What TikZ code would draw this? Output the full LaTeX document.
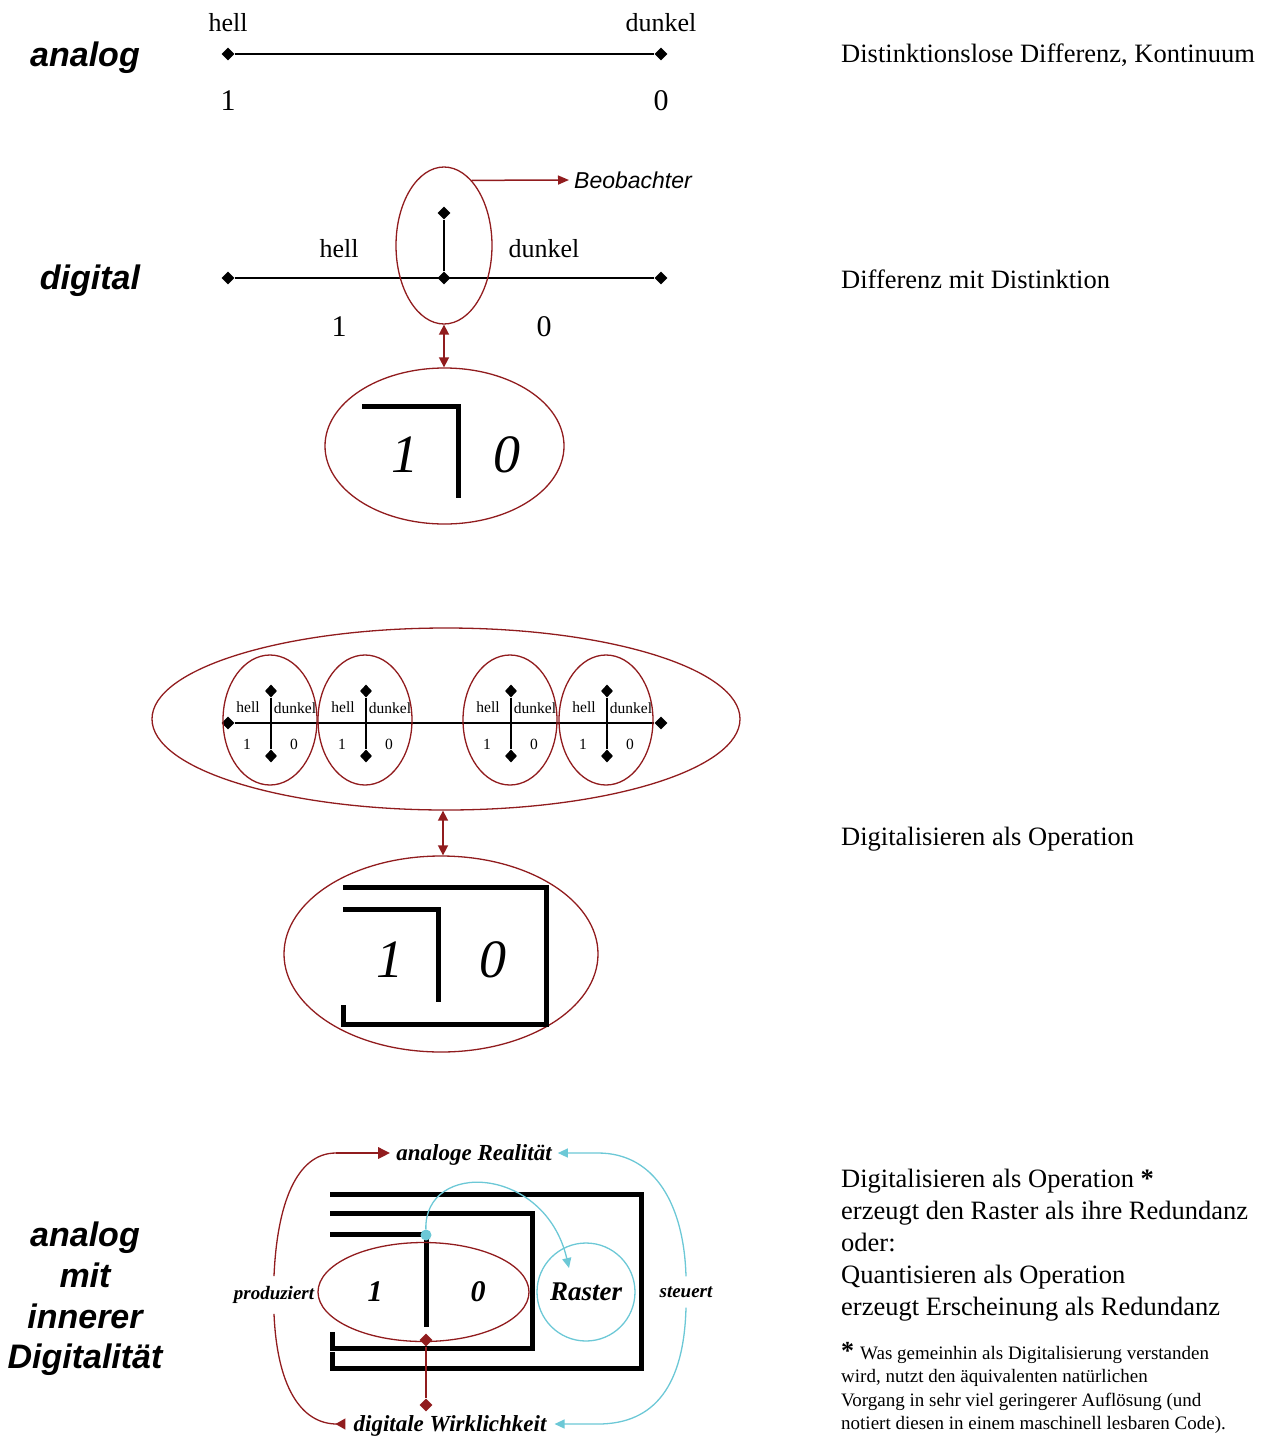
\documentclass[tikz,border=0pt]{standalone}
\usepackage{fontspec}
\setmainfont{Liberation Serif}
\newfontfamily\arialf{Liberation Sans}
\usetikzlibrary{arrows.meta,shapes.geometric}
\definecolor{dred}{RGB}{145,28,30}
\definecolor{cyn}{RGB}{108,200,214}
\newcommand\fsz[1]{\fontsize{#1}{#1}\selectfont}
\tikzset{ctip/.tip={Triangle[length=10pt,width=9pt]}}
\begin{document}
\begin{tikzpicture}[x=1pt,y=-1pt,
  dia/.style={diamond,fill=black,inner sep=0pt,minimum width=13pt,minimum height=13pt},
  sdia/.style={diamond,fill=black,inner sep=0pt,minimum width=12pt,minimum height=13pt},
  axisline/.style={line width=1.8pt},
  ell/.style={draw=dred,line width=1.3pt,ellipse,inner sep=0pt},
  thickbar/.style={line width=5pt},
  txt/.style={inner sep=0pt},
  lbl/.style={txt,font=\fsz{26}},
  dig/.style={txt,font=\fsz{30}},
  sm/.style={txt,font=\fsz{15.5}},
  bigdig/.style={txt,font=\fsz{54}\itshape},
  head/.style={txt,font=\arialf\fsz{34}\bfseries\itshape},
  rtxt/.style={inner sep=0pt,anchor=base west,font=\fsz{26.5}},
  ftxt/.style={inner sep=0pt,anchor=base west,font=\fsz{19}},
  bi/.style={font=\fsz{23}\bfseries\itshape,inner ysep=0pt,inner xsep=6pt},
  bism/.style={font=\fsz{19}\bfseries\itshape,inner xsep=0pt,inner ysep=10pt},
  dblarrow/.style={dred,line width=1.6pt,{Triangle[length=10pt,width=10pt]}-{Triangle[length=10pt,width=10pt]}}
]
\useasboundingbox (0,0) rectangle (1270,1437);

% ---------- analog ----------
\node[head] (hanalog) at (85,58) {analog};
\node[dia] (a1) at (228,54) {};
\node[dia] (a2) at (661,54) {};
\draw[axisline] (a1) -- (a2);
\node[lbl] (ah) at (228,23) {hell};
\node[lbl] (ad) at (661,23) {dunkel};
\node[dig] (a1n) at (228,101) {1};
\node[dig] (a0n) at (661,101) {0};
\node[rtxt] (r1) at (841,63) {Distinktionslose Differenz, Kontinuum};

% ---------- digital ----------
\node[head] (hdigital) at (90,281) {digital};
\node[dia] (d1) at (228,278) {};
\node[dia] (d2) at (661,278) {};
\node[dia] (dm) at (444,278) {};
\node[dia] (dt) at (444,213) {};
\draw[axisline] (d1) -- (d2);
\draw[axisline] (dm) -- (dt);
\node[lbl] (dh) at (339,249) {hell};
\node[lbl] (dd) at (544,249) {dunkel};
\node[dig] (d1n) at (339,327) {1};
\node[dig] (d0n) at (544,327) {0};
\node[ell,minimum width=96pt,minimum height=157pt] (obs) at (444,245.5) {};
\node[txt,anchor=west,inner xsep=5pt,font=\arialf\fsz{23}\itshape] (beob) at (569,180) {Beobachter};
\draw[dred,line width=1.5pt,-{Triangle[length=11pt,width=9pt]}] (obs.67.8) -- (beob.west);
\node[ell,minimum width=239pt,minimum height=156pt] (e1) at (444.5,446) {};
\draw[dblarrow] (obs.south) -- (e1.north -| obs.south);
\draw[thickbar] (362,406) -- (458,406) -- (458,498);
\node[bigdig] (e1a) at (405,455) {1};
\node[bigdig] (e1b) at (507,455) {0};
\node[rtxt] (r2) at (841,288) {Differenz mit Distinktion};

% ---------- Digitalisieren als Operation ----------
\node[ell,minimum width=588pt,minimum height=182pt] (big) at (446,719) {};
\node[dia] (m1) at (228,723) {};
\node[dia] (m2) at (661,723) {};
\draw[axisline] (m1) -- (m2);
\foreach \cx/\vx [count=\i] in {270/271,365/366,510/511,606/607}{
  \node[ell,minimum width=94pt,minimum height=130pt] (s\i) at (\cx,720) {};
  \node[sdia] (st\i) at (\vx,691) {};
  \node[sdia] (sb\i) at (\vx,756) {};
  \draw[line width=2.4pt] (st\i) -- (sb\i);
  \node[sm] (sh\i) at (\vx-23,707) {hell};
  \node[sm] (sd\i) at (\vx+24,708) {dunkel};
  \node[sm] (s1\i) at (\vx-24,744) {1};
  \node[sm] (s0\i) at (\vx+23,744) {0};
}
\node[ell,minimum width=314pt,minimum height=196pt] (e2) at (441,954) {};
\coordinate (mx) at (443,0);
\draw[dblarrow] (big.south -| mx) -- (e2.north -| mx);
\draw[thickbar] (343,887) -- (546,887) -- (546,1024) -- (343,1024) -- (343,1005);
\draw[thickbar] (343,909) -- (438,909) -- (438,1002);
\node[bigdig] (e2a) at (390,960) {1};
\node[bigdig] (e2b) at (493,960) {0};
\node[rtxt] (r3) at (841,845) {Digitalisieren als Operation};

% ---------- analog mit innerer Digitalitaet ----------
\node[head,align=center,font=\arialf\fontsize{34}{40.7}\selectfont\bfseries\itshape] (hamid) at (85,1299) {analog\\mit\\innerer\\Digitalität};

\draw[thickbar] (330,1194) -- (641,1194) -- (641,1368) -- (332,1368) -- (332,1352);
\draw[thickbar] (330,1213) -- (532,1213) -- (532,1348) -- (332,1348) -- (332,1332);
\draw[thickbar] (330,1234) -- (426,1234);
\draw[thickbar] (426,1236) -- (426,1327);
\node[ell,minimum width=211pt,minimum height=99pt] (be) at (423.5,1292) {};
\node[txt,font=\fsz{30}\bfseries\itshape] (be1) at (375,1292) {1};
\node[txt,font=\fsz{30}\bfseries\itshape] (be0) at (478,1292) {0};
\node[circle,draw=cyn,line width=1.3pt,minimum size=98pt,inner sep=0pt,font=\fsz{27}\bfseries\itshape] (ras) at (586,1292) {Raster};
\node[circle,fill=cyn,minimum size=11pt,inner sep=0pt] (dot) at (426,1235) {};
\coordinate (rasin) at (569,1268);
\draw[cyn,line width=1.3pt,-{ctip}] (dot) .. controls (424,1160) and (545,1165) .. (rasin);

\node[dia,fill=dred] (rd1) at (426,1340) {};
\node[dia,fill=dred] (rd2) at (426,1405) {};
\draw[dred,line width=1.5pt] (rd1) -- (rd2);

\node[bi] (ar) at (474,1155) {analoge Realität};
\node[bi,inner xsep=8pt] (dw) at (450,1426) {digitale Wirklichkeit};
\node[bism] (prod) at (274,1295) {produziert};
\node[bism] (steu) at (686,1292) {steuert};

\coordinate (rs) at (336,1153);
\coordinate (bl) at (0,1424);
\draw[dred,line width=2.8pt,-{Triangle[length=12pt,width=11pt]}] (rs) -- (rs -| ar.west);
\draw[dred,line width=1.3pt] (rs) .. controls (296,1153) and (277,1205) .. (prod.north);
\draw[dred,line width=1.3pt,-{Triangle[reversed,length=10pt,width=11pt]}] (prod.south) .. controls (277,1385) and (300,1424) .. (dw.west |- bl);
\draw[cyn,line width=1.3pt,{ctip}-] (ar.east |- rs) -- (598,1153) .. controls (655,1153) and (684,1205) .. (steu.north);
\draw[cyn,line width=1.3pt,-{ctip}] (steu.south) .. controls (684,1385) and (655,1424) .. (598,1424) -- (dw.east |- bl);

\node[rtxt] (b1) at (841,1187) {Digitalisieren als Operation \textbf{*}};
\node[rtxt] (b2) at (841,1219) {erzeugt den Raster als ihre Redundanz};
\node[rtxt] (b3) at (841,1251) {oder:};
\node[rtxt] (b4) at (841,1283) {Quantisieren als Operation};
\node[rtxt] (b5) at (841,1315) {erzeugt Erscheinung als Redundanz};
\node[ftxt] (f1) at (841,1359) {{\fsz{26}\textbf{*}}\hspace{6pt}Was gemeinhin als Digitalisierung verstanden};
\node[ftxt] (f2) at (841,1382) {wird, nutzt den äquivalenten natürlichen};
\node[ftxt] (f3) at (841,1406) {Vorgang in sehr viel geringerer Auflösung (und};
\node[ftxt] (f4) at (841,1429) {notiert diesen in einem maschinell lesbaren Code).};
\end{tikzpicture}
\end{document}
